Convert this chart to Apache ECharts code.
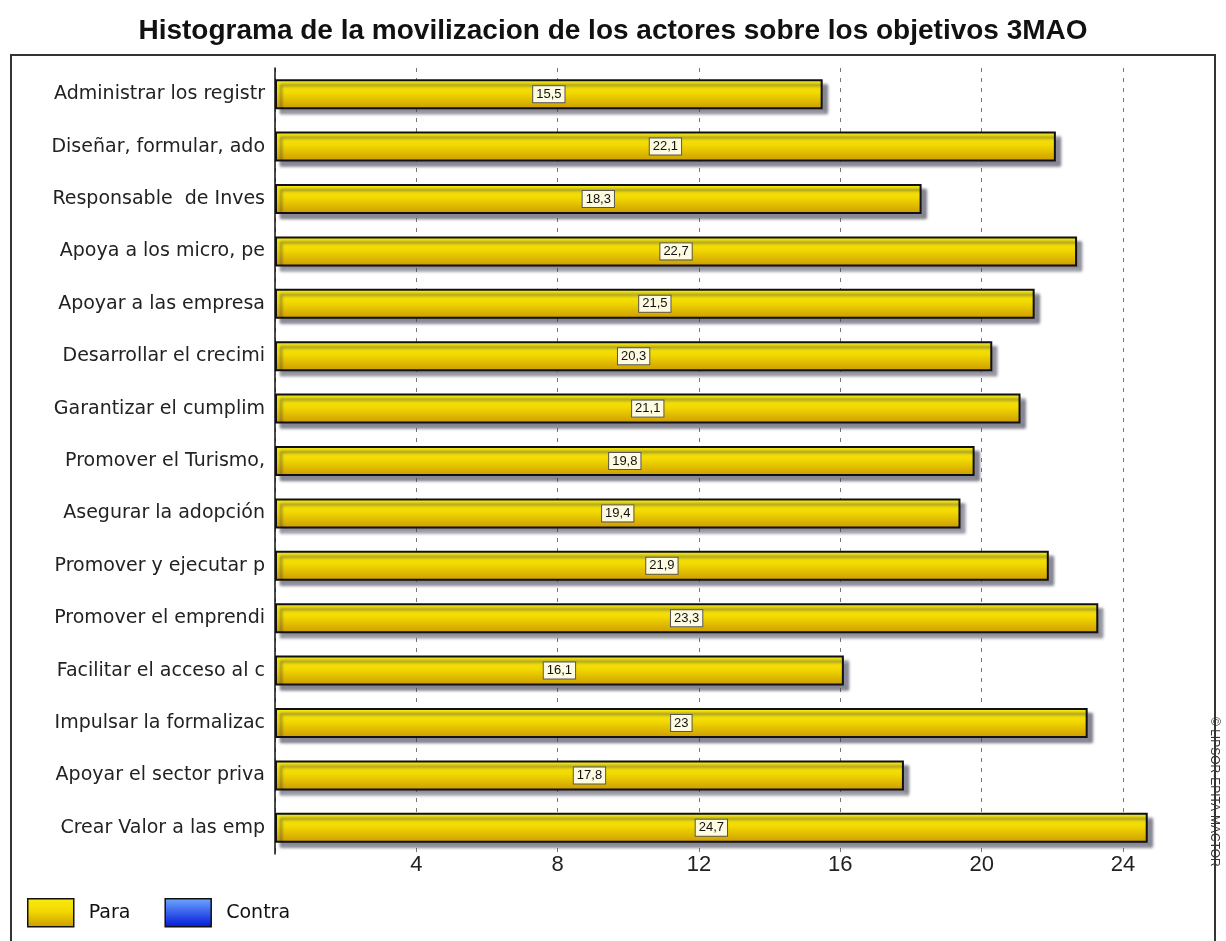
<!DOCTYPE html>
<html>
<head>
<meta charset="utf-8">
<script src="https://cdn.jsdelivr.net/npm/echarts@6/dist/echarts.min.js"></script>
<style>
  html, body { margin: 0; padding: 0; background: #fff; }
  #echart { width: 1226px; height: 941px; }
</style>
</head>
<body>
<div id="echart"></div>
<script>
    // datos
    var categorias = [
        'Administrar los registr',
        'Diseñar, formular, ado',
        'Responsable  de Inves',
        'Apoya a los micro, pe',
        'Apoyar a las empresa',
        'Desarrollar el crecimi',
        'Garantizar el cumplim',
        'Promover el Turismo,',
        'Asegurar la adopción',
        'Promover y ejecutar p',
        'Promover el emprendi',
        'Facilitar el acceso al c',
        'Impulsar la formalizac',
        'Apoyar el sector priva',
        'Crear Valor a las emp'
    ];
    var para = [15.5, 22.1, 18.3, 22.7, 21.5, 20.3, 21.1, 19.8, 19.4, 21.9, 23.3, 16.1, 23, 17.8, 24.7];
    var contra = [];
    var ticks = [4, 8, 12, 16, 20, 24];

    var font = '"Liberation Sans", Arial, sans-serif';
    var fontAncho = '"DejaVu Sans", "Liberation Sans", sans-serif';

    var myChart = echarts.init(document.getElementById('echart'));

    var yellow = new echarts.graphic.LinearGradient(0, 0, 0, 1, [
        { offset: 0, color: '#f8ec12' },
        { offset: 0.45, color: '#f2d900' },
        { offset: 1, color: '#cc9a00' }
    ]);
    var blue = new echarts.graphic.LinearGradient(0, 0, 0, 1, [
        { offset: 0, color: '#6fa8ff' },
        { offset: 1, color: '#0018d8' }
    ]);

    var option = {
        animation: false,
        backgroundColor: '#fff',
        title: {
            text: 'Histograma de la movilizacion de los actores sobre los objetivos 3MAO',
            left: 'center',
            top: 12,
            textStyle: { fontFamily: font, fontSize: 28, fontWeight: 'bold', color: '#111' }
        },
        legend: {
            left: 22,
            top: 893,
            itemWidth: 46,
            itemHeight: 28,
            itemGap: 34,
            icon: 'rect',
            textStyle: { fontFamily: fontAncho, fontSize: 19, color: '#111', padding: [0, 0, 0, 10] },
            data: [
                { name: 'Para', itemStyle: { color: yellow, borderColor: '#111', borderWidth: 1.5 } },
                { name: 'Contra', itemStyle: { color: blue, borderColor: '#111', borderWidth: 1.5 } }
            ]
        },
        grid: { left: 275, right: 50, top: 68, bottom: 87, containLabel: false },
        xAxis: {
            type: 'value',
            min: 0,
            max: 25.5,
            interval: 4,
            axisLine: { show: false },
            axisTick: { show: false },
            axisLabel: {
                margin: 0,
                fontFamily: font,
                fontSize: 22,
                color: '#222',
                showMaxLabel: false,
                formatter: function (v) { return ticks.indexOf(v) >= 0 ? v : ''; }
            },
            splitLine: { show: true, showMaxLine: false, lineStyle: { color: '#777', type: [4, 6], width: 1 } }
        },
        yAxis: {
            type: 'category',
            inverse: true,
            data: categorias,
            axisLine: { show: true, lineStyle: { color: '#111', width: 1.5 } },
            axisTick: { show: false },
            axisLabel: { margin: 10, fontFamily: fontAncho, fontSize: 19, color: '#222' }
        },
        series: [
            {
                name: 'Para',
                type: 'bar',
                data: para,
                barWidth: 30,
                barGap: '-100%',
                itemStyle: {
                    color: yellow,
                    borderColor: '#111',
                    borderWidth: 2,
                    shadowColor: 'rgba(60,60,80,0.6)',
                    shadowBlur: 3,
                    shadowOffsetX: 5,
                    shadowOffsetY: 5
                },
                label: {
                    show: true,
                    position: 'inside',
                    fontFamily: font,
                    fontSize: 13,
                    color: '#111',
                    backgroundColor: '#fffbe0',
                    borderColor: '#555',
                    borderWidth: 1,
                    padding: [2, 3, 1, 3],
                    formatter: function (p) { return String(p.value).replace('.', ','); }
                }
            },
            {
                name: 'Contra',
                type: 'bar',
                data: contra,
                barWidth: 30,
                itemStyle: { color: blue, borderColor: '#111', borderWidth: 2 }
            }
        ],
        graphic: [
            {
                type: 'rect',
                shape: { x: 11, y: 55, width: 1204, height: 910 },
                style: { fill: 'none', stroke: '#333', lineWidth: 2 },
                z: -1
            },
            {
                type: 'text',
                x: 1220,
                y: 717,
                rotation: -Math.PI / 2,
                style: {
                    text: '© LIPSOR-EPITA-MACTOR',
                    fontFamily: font,
                    fontSize: 12,
                    fill: '#333'
                }
            }
        ]
    };

    myChart.setOption(option, true);
</script>
</body>
</html>
